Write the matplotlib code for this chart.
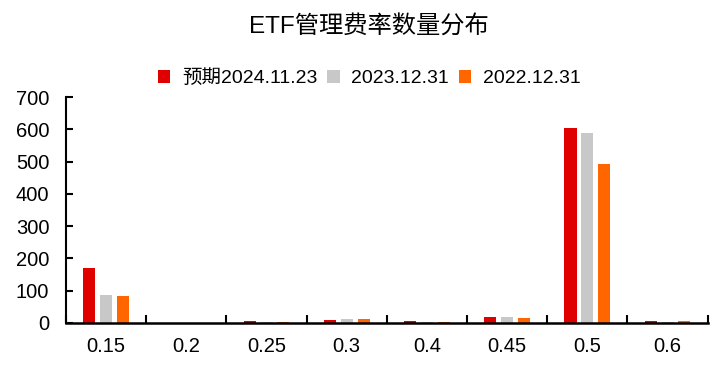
import matplotlib
matplotlib.use('Agg')
import matplotlib.pyplot as plt
import numpy as np

plt.rcParams['font.family'] = ['Liberation Sans', 'Noto Sans CJK SC', 'DejaVu Sans']

categories = ['0.15', '0.2', '0.25', '0.3', '0.4', '0.45', '0.5', '0.6']
series_names = ['预期2024.11.23', '2023.12.31', '2022.12.31']
vals_2024 = [170, 1, 5, 10, 5, 19, 604, 6]
vals_2023 = [87, 0, 3, 13, 4, 18, 588, 4]
vals_2022 = [84, 0, 4, 13, 4, 14, 492, 5]
colors = ['#E00000', '#C8C8C8', '#FF6600']


def main():
    fig = plt.figure(figsize=(7.17, 3.72), dpi=100)
    ax = fig.add_axes([0.092, 0.132, 0.895, 0.607])
    x = np.arange(len(categories))
    width = 0.15
    offsets = [-0.21, 0, 0.21]
    for vals, off, c, name in zip([vals_2024, vals_2023, vals_2022], offsets, colors, series_names):
        ax.bar(x + off, vals, width=width, color=c, label=name)

    ax.set_xlim(-0.5, len(categories) - 0.5)
    ax.set_ylim(0, 700)
    ax.set_yticks(np.arange(0, 701, 100))
    ax.set_xticks(x)
    ax.set_xticklabels(categories)
    ax.set_xticks(np.arange(-0.5, len(categories)), minor=True)
    ax.tick_params(axis='x', which='major', length=0, pad=10, labelsize=14.5)
    ax.tick_params(axis='x', which='minor', direction='in', length=6, width=1.5)
    ax.tick_params(axis='y', direction='in', length=5, width=1.5, labelsize=14.5, pad=12)
    for s in ['top', 'right']:
        ax.spines[s].set_visible(False)
    ax.spines['left'].set_linewidth(1.5)
    ax.spines['bottom'].set_linewidth(1.8)

    fig.suptitle('ETF管理费率数量分布', x=0.515, y=0.96, fontsize=17.5)
    fig.legend(loc='center', bbox_to_anchor=(0.515, 0.79), ncol=3, frameon=False,
               fontsize=14, handlelength=0.65, handleheight=0.65, handletextpad=0.6,
               columnspacing=0.5)
    fig.savefig('out.png', dpi=100)


if __name__ == '__main__':
    main()
